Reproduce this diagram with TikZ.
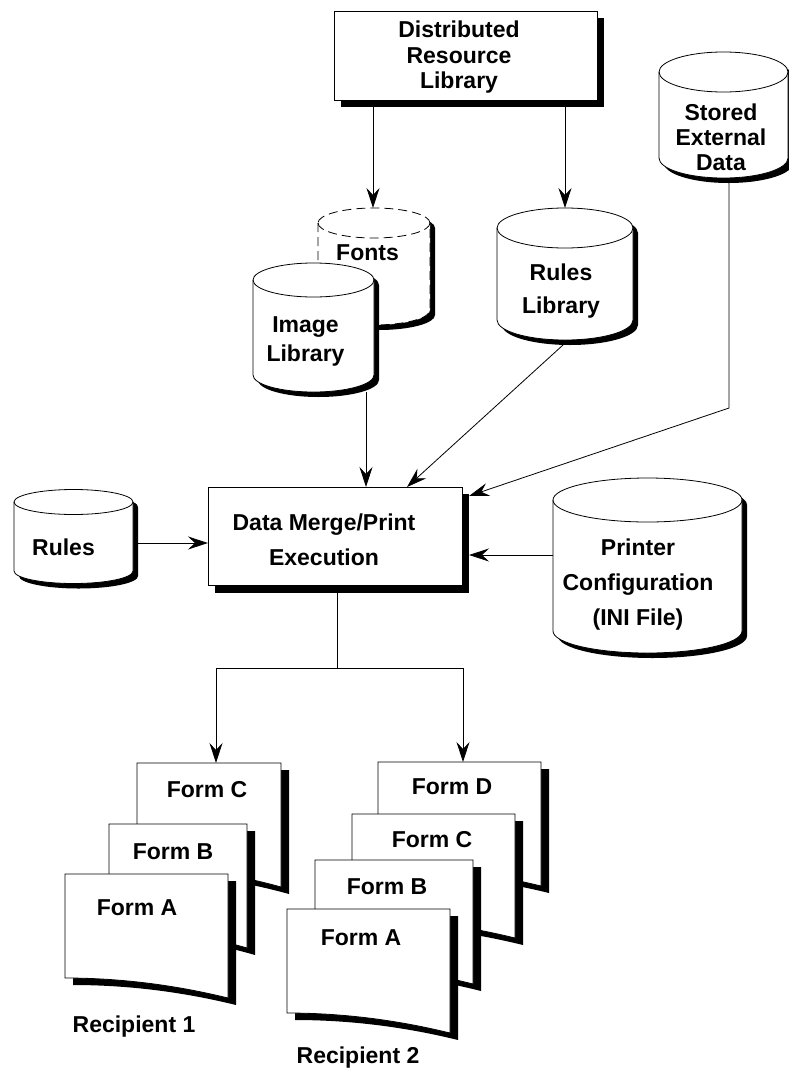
\documentclass[tikz,border=0pt]{standalone}
\usepackage{fontspec}
\setmainfont{Liberation Sans}
\usetikzlibrary{arrows.meta}
\newcommand\dbcyl[6][]{%
  \fill[black,shift={(5,5)}] ({#2-#5},#3) -- ({#2-#5},#4) arc[start angle=180,end angle=360,x radius=#5pt,y radius=#6pt] -- ({#2+#5},#3) arc[start angle=0,end angle=180,x radius=#5pt,y radius=#6pt] -- cycle;
  \fill[white] ({#2-#5},#3) -- ({#2-#5},#4) arc[start angle=180,end angle=360,x radius=#5pt,y radius=#6pt] -- ({#2+#5},#3) arc[start angle=0,end angle=180,x radius=#5pt,y radius=#6pt] -- cycle;
  \draw[#1] ({#2-#5},#3) -- ({#2-#5},#4) arc[start angle=180,end angle=360,x radius=#5pt,y radius=#6pt] -- ({#2+#5},#3) arc[start angle=0,end angle=180,x radius=#5pt,y radius=#6pt] -- cycle;
  \draw[#1] ({#2-#5},#3) arc[start angle=180,end angle=360,x radius=#5pt,y radius=#6pt];
}
\newcommand\formpg[3]{%
  \fill[black,shift={(8,7)}] (#1,#2) -- (#3,#2) -- (#3,{#2+124}) .. controls ({#1+(#3-#1)*2/3},{#2+104+20/3}) and ({#1+(#3-#1)/3},{#2+104}) .. (#1,{#2+104}) -- cycle;
  \filldraw[fill=white] (#1,#2) -- (#3,#2) -- (#3,{#2+124}) .. controls ({#1+(#3-#1)*2/3},{#2+104+20/3}) and ({#1+(#3-#1)/3},{#2+104}) .. (#1,{#2+104}) -- cycle;
}
\begin{document}
\begin{tikzpicture}[x=1pt,y=-1pt,line width=0.8pt,
  >={Stealth[length=20pt,width=13pt,inset=7pt]},
  txt/.style={font=\bfseries\fontsize{23}{#1}\selectfont,align=center,inner sep=0pt},
  txt/.default=26,
  boxshape/.style={draw,fill=white,inner sep=0pt},
  dashcyl/.style={dash pattern=on 9pt off 5pt}]
\useasboundingbox (0,0) rectangle (789,1076);

% Distributed Resource Library box
\fill[black] (341,18) rectangle (604,107);
\node[boxshape,minimum width=263pt,minimum height=89pt] (drl) at (465.5,55.5) {};
\node[txt=25.5] (drlt) at (459,57.5) {Distributed\\Resource\\Library};

% Stored External Data
\dbcyl{723.5}{72}{158}{64.5}{20}
\node[txt=25] (sedt) at (721,137) {Stored\\External\\Data};

% Fonts (dashed)
\dbcyl[dashcyl]{374}{223}{310}{56}{15}
\node[txt] (fontst) at (367.5,253) {Fonts};

% Image Library
\dbcyl{313.5}{280}{375}{60.5}{17}
\node[txt=29] (imgt) at (305.5,341.5) {Image\\Library};

% Rules Library
\dbcyl{565}{228}{320}{68}{20}
\node[txt=33] (rlt) at (561,291.5) {Rules\\Library};

% Rules
\dbcyl{73.5}{502}{571}{59.5}{12.5}
\node[txt] (rulest) at (63.5,547) {Rules};

% Printer Configuration
\dbcyl{647.5}{500}{631}{94.5}{22}
\node[txt=35] (prnt) at (638,585) {Printer\\Configuration\\(INI File)};

% Data Merge/Print Execution box
\fill[black] (215,494) rectangle (469,593);
\node[boxshape,minimum width=254pt,minimum height=98pt] (dm) at (335,536) {};
\node[txt=35] (dmt) at (324,539.5) {Data Merge/Print\\Execution};

% Recipient 1 forms
\formpg{137}{763}{281}
\node[txt] (r1c) at (207,790) {Form C};
\formpg{109}{824}{247}
\node[txt] (r1b) at (173,852) {Form B};
\formpg{65}{874}{228}
\node[txt] (r1a) at (137,908) {Form A};
\node[txt] (rec1) at (134,1027) {Recipient 1};

% Recipient 2 forms
\formpg{378}{762}{541}
\node[txt] (r2d) at (452,787) {Form D};
\formpg{352}{814}{515}
\node[txt] (r2c) at (432,840) {Form C};
\formpg{315}{860}{473}
\node[txt] (r2b) at (387,887) {Form B};
\formpg{287}{909}{450}
\node[txt] (r2a) at (361,938) {Form A};
\node[txt] (rec2) at (358,1058) {Recipient 2};

% connector coordinates
\coordinate (drlL) at (373,107);
\coordinate (drlR) at (565,107);
\coordinate (fontsTop) at (373,208);
\coordinate (rlTop) at (565,208);
\coordinate (imgBot) at (366,392);
\coordinate (dmTop1) at (366,487);
\coordinate (rlBot) at (563,345);
\coordinate (dmTop2) at (407,487);
\coordinate (sedBot) at (729,181);
\coordinate (sedBend) at (729,408);
\coordinate (dmNE) at (469,496);
\coordinate (rulesR) at (137,543);
\coordinate (dmW) at (208,543);
\coordinate (prnL) at (553,555);
\coordinate (dmE) at (469,555);
\coordinate (dmBot) at (337,593);
\coordinate (split) at (337,668);
\coordinate (splitL) at (216,668);
\coordinate (splitR) at (463,668);
\coordinate (r1Top) at (216,763);
\coordinate (r2Top) at (463,762);

\draw[->] (drlL) -- (fontsTop);
\draw[->] (drlR) -- (rlTop);
\draw[->] (imgBot) -- (dmTop1);
\draw[->] (rlBot) -- (dmTop2);
\draw[->] (sedBot) -- (sedBend) -- (dmNE);
\draw[->] (rulesR) -- (dmW);
\draw[->] (prnL) -- (dmE);
\draw (dmBot) -- (split);
\draw[->] (split) -- (splitL) -- (r1Top);
\draw[->] (split) -- (splitR) -- (r2Top);
\end{tikzpicture}
\end{document}
